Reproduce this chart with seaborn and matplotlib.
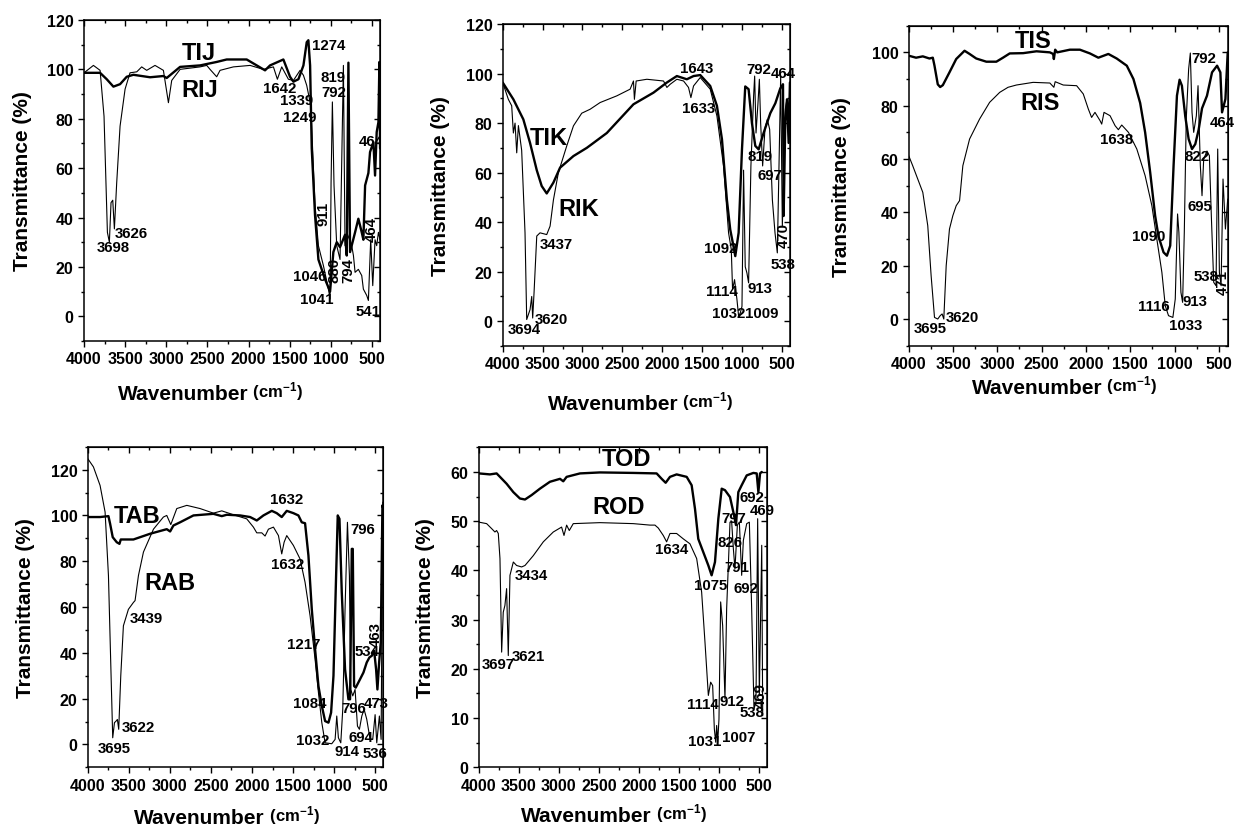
import numpy as np
import pandas as pd
import matplotlib
matplotlib.use("Agg")
import matplotlib.pyplot as plt
from matplotlib.ticker import MultipleLocator
import seaborn as sns

sns.set_style("ticks")
plt.rcParams['font.family'] = ['Liberation Sans', 'DejaVu Sans']
plt.rcParams['font.weight'] = 'bold'
plt.rcParams['text.color'] = 'black'
plt.rcParams['axes.labelcolor'] = 'black'
plt.rcParams['xtick.color'] = 'black'
plt.rcParams['ytick.color'] = 'black'
plt.rcParams['axes.edgecolor'] = 'black'
plt.rcParams['mathtext.fontset'] = 'custom'
plt.rcParams['mathtext.rm'] = 'Liberation Sans:bold'
plt.rcParams['mathtext.bf'] = 'Liberation Sans:bold'
plt.rcParams['mathtext.it'] = 'Liberation Sans:bold'
plt.rcParams['mathtext.default'] = 'rm'

# ---------------- data: panel 1 (TIJ / RIJ) ----------------
tij_wn = [4000, 3805, 3724, 3643, 3562, 3481, 3400, 3197, 3035, 2995, 2832, 2589, 2387, 2265, 2022, 1900,
          1799, 1738, 1576, 1495, 1454, 1393, 1332, 1292, 1272, 1251, 1231, 1191, 1150, 1069, 1008, 968,
          927, 887, 826, 805, 785, 765, 704, 664, 623, 603, 582, 542, 522, 481, 461, 441, 420, 408, 400]
tij_t = [98.6, 98.6, 96, 93, 94, 97, 97.8, 96.8, 97.3, 96.5, 101, 101.6, 103, 104, 104, 101.6,
         99.6, 101.6, 104, 97, 95, 96, 101.6, 111, 111.8, 101.6, 68, 41, 23, 15, 10, 26,
         30, 28, 33, 24.6, 102.7, 26, 34, 39.5, 34, 31, 53, 58, 66.5, 70.5, 57, 74.6, 78.6, 103, 68]
rij_wn = [4000, 3886, 3805, 3757, 3716, 3692, 3672, 3651, 3631, 3603, 3562, 3501, 3441, 3359, 3299, 3238,
          3137, 3035, 2974, 2934, 2832, 2589, 2508, 2468, 2387, 2346, 2184, 1981, 1819, 1697, 1649, 1596,
          1515, 1454, 1373, 1332, 1292, 1243, 1219, 1191, 1150, 1089, 1028, 1008, 996, 980, 960, 927,
          887, 846, 826, 805, 745, 724, 704, 664, 623, 603, 562, 542, 514, 489, 461, 441, 420, 400]
rij_t = [98.6, 101.6, 99.6, 81, 34, 30, 46, 47, 35.4, 54, 77, 92, 98.6, 99, 101, 99.6,
         101.6, 99.6, 86.5, 95.5, 100, 101, 101.6, 100, 97, 99.6, 101, 101.6, 100, 101, 96, 101,
         96, 95.5, 99.6, 97.6, 93.5, 85.4, 66.5, 45, 28.6, 20.5, 11, 7, 54, 86.8, 53, 28.6,
         23, 101.6, 28.6, 34, 28.6, 24.6, 17.8, 19, 16.5, 11, 8.4, 6.4, 31, 12.4, 31, 28.6, 34, 31]

# ---------------- data: panel 2 (TIK / RIK) ----------------
tik_wn = [4000, 3866, 3741, 3657, 3573, 3511, 3448, 3364, 3281, 3113, 2946, 2862, 2695, 2361, 2110, 1942,
          1817, 1692, 1608, 1524, 1399, 1315, 1252, 1190, 1148, 1106, 1085, 1043, 1001, 960, 918, 876,
          834, 792, 730, 646, 583, 521, 487, 479, 458, 437, 416, 400]
tik_t = [96.4, 89.6, 81.5, 72, 61, 54.6, 51.6, 56, 62, 66.7, 70, 72, 76, 87.6, 92.3, 96.4,
         99, 97.7, 99, 99.4, 95, 87, 73.5, 49, 37, 30, 26.3, 35.7, 69.4, 94.8, 93.7, 80,
         70.8, 69.4, 76, 84, 88, 94, 95.7, 42.5, 81, 89.6, 72, 96.4]
rik_wn = [4000, 3929, 3887, 3866, 3845, 3824, 3803, 3762, 3720, 3699, 3678, 3657, 3636, 3624, 3607, 3573,
          3532, 3448, 3406, 3364, 3302, 3197, 3113, 3009, 2904, 2779, 2570, 2403, 2361, 2349, 2327, 2193,
          1984, 1942, 1900, 1817, 1733, 1671, 1641, 1608, 1524, 1399, 1315, 1232, 1169, 1135, 1119, 1094,
          1064, 1043, 1022, 1001, 981, 960, 939, 918, 889, 855, 842, 825, 800, 783, 767, 742,
          712, 683, 654, 620, 587, 558, 537, 516, 495, 458, 437, 416, 400]
rik_t = [96.4, 89.6, 87, 76, 80, 68, 79, 69, 35.7, 0.7, 2.7, 4.7, 10, 1.3, 11.5, 34.4,
         35.7, 35, 38.4, 49, 60, 70.8, 78.9, 84, 85.6, 88.3, 91, 93.7, 97, 89.6, 97, 97.7,
         97, 94.4, 95.7, 97.7, 97, 94.4, 90.3, 95, 98.4, 93.7, 82.9, 62.7, 35.7, 29, 12.8, 16.8,
         8.8, 2, 3.4, 6, 61, 22, 19.5, 15.5, 62.7, 91, 99, 76, 88.3, 97.7, 80, 62.7,
         78, 81.5, 77.5, 49, 35.7, 27.6, 62.7, 99, 38.4, 85.6, 89.6, 73.5, 96.4]

# ---------------- data: panel 3 (TIS / RIS) ----------------
tis_wn = [4000, 3917, 3841, 3766, 3728, 3709, 3672, 3645, 3615, 3540, 3464, 3370, 3313, 3238, 3124, 3011,
          2936, 2860, 2709, 2558, 2407, 2370, 2362, 2347, 2324, 2181, 2068, 1955, 1860, 1747, 1653, 1539,
          1464, 1388, 1332, 1275, 1219, 1181, 1124, 1086, 1049, 1011, 973, 943, 917, 879, 841, 803,
          766, 728, 709, 690, 634, 577, 520, 483, 464, 426, 400]
tis_t = [98.75, 98, 98.5, 97.7, 98, 95, 88, 87, 87.7, 92.5, 97.5, 100.6, 99.4, 97.7, 96.5, 96.5,
         98, 99.6, 99.7, 100.4, 100, 99.4, 97.5, 101, 100, 101, 101, 99.6, 98, 99.4, 97.7, 95,
         90, 81, 70, 55, 38.7, 31, 25, 23.75, 27.5, 57.5, 83.75, 89.75, 87.5, 76, 67.5, 63.75,
         65.6, 71, 75, 79, 83.75, 92.5, 95, 92.5, 77.5, 82.5, 100]
ris_wn = [4000, 3955, 3898, 3841, 3785, 3747, 3709, 3672, 3645, 3623, 3604, 3577, 3540, 3502, 3464, 3426,
          3389, 3313, 3200, 3087, 2973, 2879, 2785, 2596, 2407, 2362, 2347, 2256, 2105, 2030, 1973, 1936,
          1898, 1841, 1822, 1796, 1728, 1671, 1634, 1596, 1520, 1426, 1332, 1256, 1200, 1143, 1105, 1068,
          1019, 992, 966, 951, 928, 909, 890, 868, 841, 822, 803, 784, 754, 735, 709, 690,
          671, 634, 607, 585, 558, 532, 513, 494, 475, 453, 426, 400]
ris_t = [61.25, 57.5, 52.5, 47.5, 35, 16.25, 0.6, 0, 1.25, 1.9, 0, 20, 33.75, 38.75, 42.5, 44.4,
         57.5, 67.5, 75, 81.25, 85, 86.9, 87.75, 88.75, 88.5, 86.9, 89, 87.75, 87.5, 84.4, 78.75, 75.6,
         77.5, 74.4, 73.1, 77.5, 76.25, 72.5, 71, 72.75, 70, 63.75, 53.75, 42.5, 30, 17.5, 5, 1.25,
         0.6, 7.5, 39.4, 32.5, 10, 6.25, 32.5, 75, 93.75, 99.75, 77.5, 70, 76.25, 87.5, 57.5, 46.25,
         60, 63, 61.25, 38.75, 13.75, 12.5, 63.75, 17.5, 12.5, 52.5, 33.75, 45]

# ---------------- data: panel 4 (TAB / RAB) ----------------
tab_wn = [4000, 3850, 3748, 3728, 3696, 3647, 3614, 3598, 3444, 3241, 3038, 2997, 2957, 2876, 2713, 2470,
          2368, 2307, 2145, 2023, 1942, 1861, 1759, 1699, 1638, 1577, 1496, 1435, 1394, 1354, 1313, 1272,
          1232, 1191, 1150, 1110, 1069, 1037, 1008, 976, 956, 935, 907, 867, 826, 806, 785, 773,
          757, 737, 684, 643, 603, 570, 542, 513, 489, 473, 452, 432, 412, 400]
tab_t = [99.3, 99.3, 99.7, 96.4, 90.5, 88.3, 87.6, 89.5, 89.5, 92, 94, 93, 95.6, 97, 100, 100.7,
         99.7, 100.3, 100, 99.3, 97.8, 100, 102, 101, 99.3, 102, 101, 100, 97, 96.6, 82.5, 59,
         41.6, 25.5, 16.8, 10.2, 9.5, 13.9, 30, 73.7, 100, 98.5, 66.4, 32.8, 19.7, 19.7, 85.4, 85.4,
         25.5, 24.8, 28.5, 31.4, 35.8, 38, 38.7, 40.9, 32.8, 24, 35.8, 44.5, 104.4, 103]
rab_wn = [4000, 3931, 3850, 3789, 3748, 3716, 3696, 3675, 3655, 3639, 3623, 3598, 3566, 3505, 3444, 3424,
          3383, 3322, 3200, 3079, 3038, 2989, 2916, 2794, 2632, 2470, 2368, 2226, 2064, 1983, 1942, 1881,
          1841, 1800, 1739, 1678, 1638, 1609, 1577, 1496, 1415, 1354, 1293, 1232, 1191, 1150, 1110, 1029,
          988, 968, 948, 919, 895, 867, 838, 814, 798, 773, 745, 716, 692, 663, 635, 603,
          562, 530, 501, 481, 449, 428, 408]
rab_t = [124.8, 121.2, 113.1, 101.5, 73.7, 30, 2.9, 9.5, 10.2, 10.9, 6.6, 30, 51.8, 59, 62, 62.8,
         73.7, 84, 94, 99.3, 100, 96, 103, 104.4, 103, 101, 102, 100.3, 98.5, 94.9, 92.4, 92.4,
         91, 94, 94.9, 91.2, 83.2, 88.3, 91.2, 86.9, 81, 70.8, 56.2, 37.2, 22.6, 9.5, 0.7, 0.3,
         2.2, 12.4, 2.9, 0.7, 15.3, 59, 97, 73.7, 24, 21.2, 24, 8, 6.6, 12.4, 15.3, 11,
         2.2, 2.2, 13, 0.7, 12.4, 2.2, 105.8]

# ---------------- data: panel 5 (TOD / ROD) ----------------
tod_wn = [4000, 3862, 3779, 3737, 3654, 3570, 3487, 3424, 3341, 3237, 3112, 2986, 2945, 2903, 2736, 2486,
          2069, 1777, 1714, 1664, 1610, 1527, 1401, 1339, 1297, 1256, 1193, 1130, 1089, 1047, 1005, 963,
          922, 859, 818, 784, 755, 713, 650, 567, 525, 504, 483, 462]
tod_t = [59.7, 59.5, 59.7, 59, 57.6, 55.9, 54.6, 54.4, 55.3, 56.6, 58, 58.6, 58.1, 59, 59.7, 59.9,
         59.8, 59.7, 58.6, 57.8, 59, 59.5, 59, 57.3, 52.5, 46.4, 43.7, 41, 39, 41.7, 50.5, 56.6,
         56.3, 54.9, 51.9, 49.2, 55.9, 57.3, 59.3, 59.8, 59.7, 55.9, 59.7, 60]
rod_wn = [4000, 3904, 3842, 3800, 3779, 3758, 3737, 3716, 3696, 3675, 3654, 3633, 3612, 3570, 3529, 3466,
          3424, 3320, 3195, 3070, 2966, 2936, 2903, 2870, 2820, 2486, 2069, 1860, 1798, 1756, 1694, 1652,
          1610, 1527, 1443, 1360, 1276, 1214, 1172, 1130, 1101, 1076, 1055, 1038, 1026, 1013, 997, 976,
          951, 922, 901, 859, 838, 817, 797, 767, 742, 713, 692, 650, 617, 588, 559, 534,
          513, 492, 462, 450]
rod_t = [49.8, 49.5, 48.5, 47.8, 48.1, 47.5, 42.4, 23.4, 31.5, 32.9, 36.3, 22.7, 39, 41.7, 41, 40.7,
         41, 43, 45.8, 47.8, 48.8, 47.1, 49.2, 48.1, 49.5, 49.7, 49.5, 49.2, 49.2, 48.6, 47.1, 45.8,
         47.5, 47.5, 46.4, 45.4, 42.4, 35.6, 25.4, 14.6, 17.3, 16.6, 7.8, 5.1, 8.5, 5.1, 9.8, 33.6,
         28.8, 13.9, 32.2, 49.8, 49.8, 44.4, 40.3, 49.2, 49.8, 39, 46.1, 49.5, 49.8, 32.2, 11.9, 13.2,
         50.5, 14.6, 45.1, 10.5]

# ---------------- labels ----------------
p1_names = ["TIJ", "RIJ"]
p1_name_pos = [(2609, 107), (2589, 92)]
p1_peaks = ["1274", "1642", "1339", "1249", "819", "792", "3698", "3626", "1046", "1041", "541"]
p1_peak_pos = [(1028, 110), (1616, 92.4), (1414, 87.4), (1373, 80.7), (968, 97), (968, 91),
               (3643, 28), (3420, 33.6), (1251, 16.5), (1170, 7), (542, 2.3)]
p1_rot = ["911", "880", "794", "464"]
p1_rot_pos = [(1089, 42), (955, 19), (785, 19), (501, 35.4)]
p1_clip = ["464"]
p1_clip_pos = [(505, 71)]

p2_names = ["TIK", "RIK"]
p2_name_pos = [(3427, 74), (3051, 45.4)]
p2_peaks = ["1643", "1633", "792", "464", "819", "697", "538", "1092", "1114", "913", "1032", "1009",
            "3437", "3694", "3620"]
p2_peak_pos = [(1574, 102.4), (1545, 86.3), (792, 101.8), (479, 100.2), (771, 66.7), (646, 58.9),
               (487, 23.3), (1273, 29.7), (1252, 12.4), (780, 13.5), (1169, 3.4), (751, 3.4),
               (3323, 31.3), (3728, -3.1), (3385, 0.9)]
p2_rot = ["470"]
p2_rot_pos = [(479, 35)]

p3_names = ["TIS", "RIS"]
p3_name_pos = [(2596, 104.4), (2521, 81.25)]
p3_peaks = ["792", "464", "822", "1638", "695", "1090", "538", "913", "1116", "1033", "3695", "3620"]
p3_peak_pos = [(671, 97.9), (464, 73.75), (747, 61), (1653, 67.5), (709, 42.5), (1294, 31),
               (650, 16), (766, 6.6), (1237, 4.75), (879, -2.25), (3758, -3.5), (3396, 0.6)]
p3_rot = ["471"]
p3_rot_pos = [(455, 14)]

p4_names = ["TAB", "RAB"]
p4_name_pos = [(3403, 100), (2997, 70.8)]
p4_peaks = ["1632", "1632", "796", "3439", "1217", "1084", "1032", "914", "694", "536", "796", "473",
            "534", "3695", "3622"]
p4_peak_pos = [(1577, 107), (1569, 78.8), (651, 93.9), (3282, 55), (1366, 43.8), (1293, 18),
               (1260, 1.75), (838, -2.9), (676, 3.4), (501, -3.6), (765, 16), (489, 18.2),
               (603, 40.9), (3675, -1.5), (3383, 7.7)]
p4_rot = ["463"]
p4_rot_pos = [(489, 48.2)]

p5_names = ["TOD", "ROD"]
p5_name_pos = [(2152, 62.7), (2257, 52.9)]
p5_peaks = ["1634", "3434", "3697", "3621", "1075", "692", "469", "797", "826", "791", "692", "1114",
            "912", "538", "1031", "1007"]
p5_peak_pos = [(1589, 44.4), (3341, 39.1), (3758, 21), (3383, 22.6), (1100, 37.0), (588, 54.9),
               (462, 52.2), (818, 50.6), (859, 45.8), (770, 40.6), (655, 36.4), (1193, 12.9),
               (838, 13.4), (580, 11.2), (1172, 5.4), (755, 6.1)]
p5_rot = ["469"]
p5_rot_pos = [(470, 14.8)]

fig = plt.figure(figsize=(12.36, 8.29), dpi=100)

panels = [
    dict(rect=[0.0680, 0.5875, 0.2395, 0.3872], ylim=(-10, 120), ymaj=20, ymin=10,
         thick=(tij_wn, tij_t), thin=(rij_wn, rij_t), names=p1_names, name_pos=p1_name_pos,
         peaks=p1_peaks, peak_pos=p1_peak_pos, rot=p1_rot, rot_pos=p1_rot_pos,
         clip=p1_clip, clip_pos=p1_clip_pos, xl=(0.334, -0.135), ypad=11),
    dict(rect=[0.4067, 0.5814, 0.2324, 0.3884], ylim=(-10, 120), ymaj=20, ymin=10,
         thick=(tik_wn, tik_t), thin=(rik_wn, rik_t), names=p2_names, name_pos=p2_name_pos,
         peaks=p2_peaks, peak_pos=p2_peak_pos, rot=p2_rot, rot_pos=p2_rot_pos,
         clip=[], clip_pos=[], xl=(0.384, -0.150), ypad=11),
    dict(rect=[0.7352, 0.5818, 0.2581, 0.3860], ylim=(-10, 110), ymaj=20, ymin=10,
         thick=(tis_wn, tis_t), thin=(ris_wn, ris_t), names=p3_names, name_pos=p3_name_pos,
         peaks=p3_peaks, peak_pos=p3_peak_pos, rot=p3_rot, rot_pos=p3_rot_pos,
         clip=[], clip_pos=[], xl=(0.402, -0.102), ypad=15),
    dict(rect=[0.0710, 0.0732, 0.2392, 0.3867], ylim=(-10, 130), ymaj=20, ymin=10,
         thick=(tab_wn, tab_t), thin=(rab_wn, rab_t), names=p4_names, name_pos=p4_name_pos,
         peaks=p4_peaks, peak_pos=p4_peak_pos, rot=p4_rot, rot_pos=p4_rot_pos,
         clip=[], clip_pos=[], xl=(0.377, -0.128), ypad=11),
    dict(rect=[0.3875, 0.0732, 0.2328, 0.3860], ylim=(0, 65), ymaj=10, ymin=5,
         thick=(tod_wn, tod_t), thin=(rod_wn, rod_t), names=p5_names, name_pos=p5_name_pos,
         peaks=p5_peaks, peak_pos=p5_peak_pos, rot=p5_rot, rot_pos=p5_rot_pos,
         clip=[], clip_pos=[], xl=(0.374, -0.122), ypad=11),
]

for p in panels:
    ax = fig.add_axes(p["rect"])
    df_thin = pd.DataFrame({"wn": p["thin"][0], "T": p["thin"][1]})
    df_thick = pd.DataFrame({"wn": p["thick"][0], "T": p["thick"][1]})
    sns.lineplot(data=df_thin, x="wn", y="T", ax=ax, color="black", linewidth=0.8,
                 sort=False, estimator=None)
    sns.lineplot(data=df_thick, x="wn", y="T", ax=ax, color="black", linewidth=1.7,
                 sort=False, estimator=None)
    ax.set_xlim(4000, 400)
    ax.set_ylim(*p["ylim"])
    ax.xaxis.set_major_locator(MultipleLocator(500))
    ax.xaxis.set_minor_locator(MultipleLocator(250))
    ax.yaxis.set_major_locator(MultipleLocator(p["ymaj"]))
    ax.yaxis.set_minor_locator(MultipleLocator(p["ymin"]))
    ax.tick_params(which="both", direction="out", width=1.0, labelsize=11.5, colors="black")
    ax.tick_params(which="major", length=4)
    ax.tick_params(which="minor", length=2.5)
    for lab in ax.get_xticklabels() + ax.get_yticklabels():
        lab.set_fontweight("bold")
    for s in ax.spines.values():
        s.set_linewidth(1.1)
        s.set_color("black")
        s.set_visible(True)
    secx = ax.secondary_xaxis("top")
    secx.xaxis.set_major_locator(MultipleLocator(500))
    secx.xaxis.set_minor_locator(MultipleLocator(250))
    secx.tick_params(which="both", direction="in", labeltop=False, width=1.0, colors="black")
    secx.tick_params(which="major", length=4)
    secx.tick_params(which="minor", length=2.5)
    secy = ax.secondary_yaxis("right")
    secy.yaxis.set_major_locator(MultipleLocator(p["ymaj"]))
    secy.yaxis.set_minor_locator(MultipleLocator(p["ymin"]))
    secy.tick_params(which="both", direction="in", labelright=False, width=1.0, colors="black")
    secy.tick_params(which="major", length=4)
    secy.tick_params(which="minor", length=2.5)

    ax.set_ylabel("Transmittance (%)", fontsize=15, fontweight="bold", labelpad=p["ypad"],
                  color="black")
    ax.set_xlabel("Wavenumber", fontsize=15, fontweight="bold", color="black")
    ax.xaxis.set_label_coords(p["xl"][0], p["xl"][1])
    ax.annotate(" (cm$^{-1}$)", xy=(1, 0.05), xycoords=ax.xaxis.label, ha="left", va="bottom",
                fontsize=12, fontweight="bold", annotation_clip=False, color="black")

    for name, (x, y) in zip(p["names"], p["name_pos"]):
        ax.text(x, y, name, fontsize=17, fontweight="bold", ha="center", va="center", color="black")
    for t, (x, y) in zip(p["peaks"], p["peak_pos"]):
        ax.text(x, y, t, fontsize=10.8, fontweight="bold", ha="center", va="center", color="black",
                clip_on=False)
    for t, (x, y) in zip(p["rot"], p["rot_pos"]):
        ax.text(x, y, t, fontsize=10.8, fontweight="bold", ha="center", va="center", rotation=90,
                color="black", clip_on=False)
    for t, (x, y) in zip(p["clip"], p["clip_pos"]):
        ax.text(x, y, t, fontsize=10.8, fontweight="bold", ha="center", va="center", color="black",
                clip_on=True, zorder=5)

fig.savefig("out.png", dpi=100)
